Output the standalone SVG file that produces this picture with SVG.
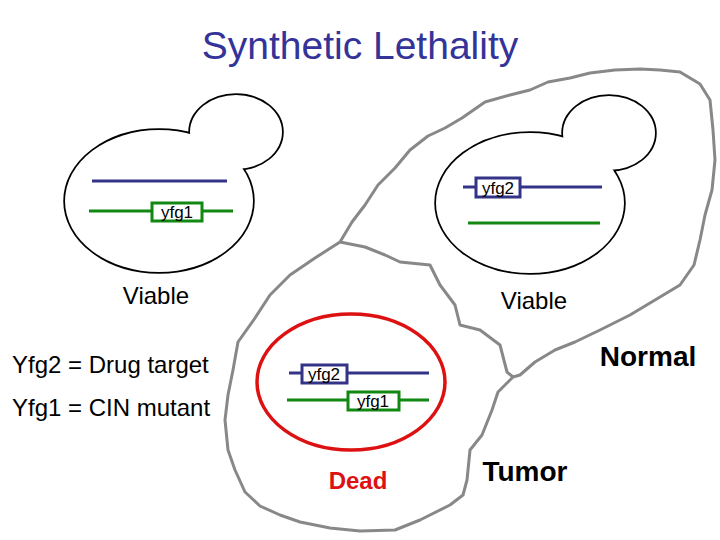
<svg xmlns="http://www.w3.org/2000/svg" width="720" height="540" viewBox="0 0 720 540">
<style>
text{font-family:"Liberation Sans",Arial,sans-serif}
.cell{fill:none;stroke:#888;stroke-width:3;stroke-linejoin:round}
.ys{fill:none;stroke:#000;stroke-width:3.5}
.yf{fill:#fff;stroke:none}
.b{stroke:#333388;stroke-width:3}
.g{stroke:#118811;stroke-width:3}
.bb{fill:#fff;stroke:#333388;stroke-width:3}
.gb{fill:#fff;stroke:#118811;stroke-width:3}
.lab{font-size:17px;fill:#000}
.t{font-size:24px;fill:#000}
</style>
<rect width="720" height="540" fill="#fff"/>
<text x="360" y="59" text-anchor="middle" font-size="39" fill="#333399">Synthetic Lethality</text>
<g id="normal-cell">
<path class="cell" d="M340,242 L352,222 L365,205 L378,185 L395,168 L410,150 L428,136 L445,128 L462,118 L485,102 L510,95 L530,90 L548,82 L570,78 L590,73 L615,70 L640,69 L660,70 L680,72 L700,84 L710,100 L713,130 L715,160 L712,190 L705,215 L700,240 L694,265 L680,285 L655,300 L630,315 L600,330 L575,342 L555,350 L535,362 L520,375 L513,377"/>
</g>
<g id="tumor-cell">
<path class="cell" d="M340,242 L365,247 L385,255 L400,262 L430,265 L440,285 L455,305 L460,325 L480,330 L500,345 L507,372 L513,377 L498,392 L492,410 L482,435 L470,450 L467,480 L463,495 L450,505 L420,520 L395,530 L360,531 L330,528 L300,522 L280,515 L260,506 L245,492 L235,470 L228,450 L225,420 L228,395 L233,370 L238,342 L255,318 L270,295 L290,275 L315,258 L340,242"/>
</g>
<g id="yeast-left">
<ellipse class="ys" cx="236" cy="132" rx="46" ry="37"/>
<ellipse class="ys" cx="159" cy="201" rx="94" ry="71"/>
<ellipse class="yf" cx="236" cy="132" rx="46" ry="37"/>
<ellipse class="yf" cx="159" cy="201" rx="94" ry="71"/>
<line class="b" x1="92" y1="181" x2="227" y2="181"/>
<line class="g" x1="89" y1="211" x2="233" y2="211"/>
<rect class="gb" x="152" y="203" width="50" height="18"/>
<text class="lab" x="177" y="218" text-anchor="middle">yfg1</text>
<text class="t" x="156" y="304" text-anchor="middle">Viable</text>
</g>
<g id="yeast-right">
<ellipse class="ys" cx="609" cy="133" rx="46" ry="37"/>
<ellipse class="ys" cx="530" cy="203" rx="94" ry="70"/>
<ellipse class="yf" cx="609" cy="133" rx="46" ry="37"/>
<ellipse class="yf" cx="530" cy="203" rx="94" ry="70"/>
<line class="b" x1="463" y1="187" x2="602" y2="187"/>
<rect class="bb" x="476" y="178" width="44" height="19"/>
<text class="lab" x="498" y="194" text-anchor="middle">yfg2</text>
<line class="g" x1="468" y1="223" x2="600" y2="223"/>
<text class="t" x="534" y="309" text-anchor="middle">Viable</text>
</g>
<g id="yeast-dead">
<ellipse cx="351" cy="382" rx="94" ry="68" fill="none" stroke="#dd1111" stroke-width="3.5"/>
<line class="b" x1="289" y1="373" x2="429" y2="373"/>
<rect class="bb" x="302" y="365" width="45" height="18"/>
<text class="lab" x="324" y="380" text-anchor="middle">yfg2</text>
<line class="g" x1="287" y1="400" x2="429" y2="400"/>
<rect class="gb" x="348" y="392" width="51" height="18"/>
<text class="lab" x="373" y="407" text-anchor="middle">yfg1</text>
<text x="358" y="489" text-anchor="middle" font-size="24" font-weight="bold" fill="#dd1111">Dead</text>
</g>
<text x="648" y="366" text-anchor="middle" font-size="28" font-weight="bold">Normal</text>
<text x="525" y="481" text-anchor="middle" font-size="28" font-weight="bold">Tumor</text>
<text class="t" x="12" y="373">Yfg2 = Drug target</text>
<text class="t" x="12" y="416">Yfg1 = CIN mutant</text>
</svg>
